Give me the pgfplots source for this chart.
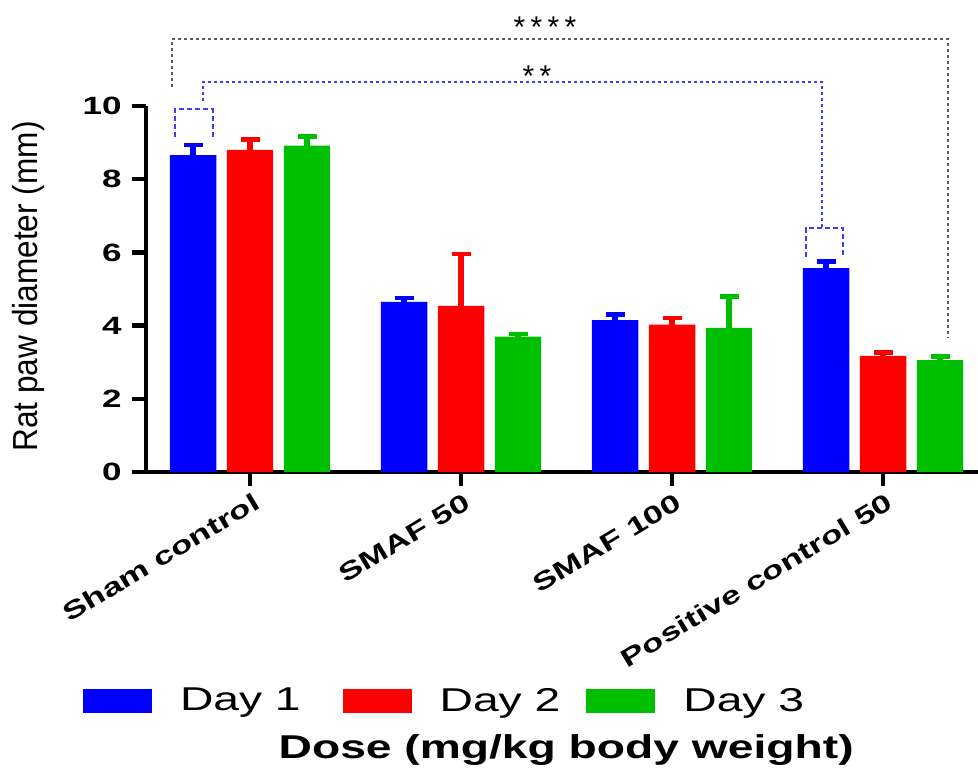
\documentclass[border=0pt]{standalone}
\usepackage{fontspec}
\setmainfont{Liberation Sans}
\newfontfamily\wide{Liberation Sans}[FakeStretch=1.4]
\usepackage{graphicx}
\usepackage{pgfplots}
\pgfplotsset{compat=1.18}
\definecolor{cB}{RGB}{0,0,255}
\definecolor{cR}{RGB}{255,0,0}
\definecolor{cG}{RGB}{0,190,0}
\definecolor{starline}{RGB}{90,90,90}
\definecolor{sigblue}{RGB}{60,60,255}
\begin{document}
\begin{tikzpicture}
\begin{axis}[
  name=ax,
  scale only axis, width=416pt, height=183pt,
  xmin=-0.493, xmax=3.45, ymin=0, ymax=10,
  clip=false,
  axis x line*=bottom, axis y line*=left,
  axis line style={line width=2.25pt, black},
  tick align=outside,
  major tick length=7pt,
  tick style={line width=2.25pt, black},
  ytick={0,2,4,6,8,10},
  xtick={0,1,2,3},
  xticklabels={Sham control, SMAF 50, SMAF 100, Positive control 50},
  /pgf/number format/assume math mode=true,
  yticklabel style={font=\wide\bfseries\fontsize{12.5}{14}\selectfont, inner sep=5pt},
  xticklabel style={font=\wide\bfseries\fontsize{12.5}{14}\selectfont, rotate=31, anchor=north east, inner sep=3pt, xshift=2.5pt},
  ybar, bar width=0.22,
  ylabel={\scalebox{1}[1.1]{Rat paw diameter (mm)}},
  ylabel style={font=\fontsize{15.8}{18}\selectfont, at={(axis description cs:-0.131,0.507)}, anchor=base},
  xlabel={Dose (mg/kg body weight)},
  xlabel style={font=\wide\bfseries\fontsize{16.5}{18}\selectfont, at={(axis description cs:0.505,-0.76)}, anchor=center},
  legend columns=3,
  legend style={at={(axis description cs:-0.0757,-0.626)}, anchor=west, draw=none, fill=none,
    inner sep=0pt, outer sep=0pt, font=\wide\fontsize{16.5}{18}\selectfont,
    /tikz/every even column/.append style={column sep=19pt},
    /tikz/every odd column/.append style={column sep=12pt}},
]
\addplot[fill=cB, draw=none, bar shift=-0.27,
  legend image code/.code={\fill[cB] (0pt,-6pt) rectangle (34.5pt,6pt);},
  error bars/.cd, y dir=plus, y explicit,
  error bar style={draw=cB, line width=3pt},
  error mark options={rotate=90, draw=cB, mark size=4.75pt, line width=2.25pt}]
  coordinates {(0,8.66) +- (0,0.28) (1,4.65) +- (0,0.10) (2,4.15) +- (0,0.15) (3,5.57) +- (0,0.18)};
\addlegendentry{Day 1}
\addplot[fill=cR, draw=none, bar shift=0,
  legend image code/.code={\fill[cR] (0pt,-6pt) rectangle (34.5pt,6pt);},
  error bars/.cd, y dir=plus, y explicit,
  error bar style={draw=cR, line width=3pt},
  error mark options={rotate=90, draw=cR, mark size=4.75pt, line width=2.25pt}]
  coordinates {(0,8.80) +- (0,0.29) (1,4.54) +- (0,1.41) (2,4.03) +- (0,0.18) (3,3.17) +- (0,0.10)};
\addlegendentry{Day 2\kern-8pt}
\addplot[fill=cG, draw=none, bar shift=0.27,
  legend image code/.code={\fill[cG] (0pt,-6pt) rectangle (34.5pt,6pt);},
  error bars/.cd, y dir=plus, y explicit,
  error bar style={draw=cG, line width=3pt},
  error mark options={rotate=90, draw=cG, mark size=4.75pt, line width=2.25pt}]
  coordinates {(0,8.92) +- (0,0.25) (1,3.70) +- (0,0.07) (2,3.94) +- (0,0.86) (3,3.06) +- (0,0.10)};
\addlegendentry{Day 3}
% significance brackets
\draw[starline, line width=1pt, dash pattern=on 1.5pt off 1.5pt]
  (axis cs:-0.37,10.52) -- (axis cs:-0.37,11.83) -- (axis cs:3.31,11.83) -- (axis cs:3.31,3.66);
\draw[sigblue, line width=1pt, dash pattern=on 1.5pt off 1.5pt]
  (axis cs:-0.223,10.15) -- (axis cs:-0.223,10.66) -- (axis cs:2.711,10.66) -- (axis cs:2.711,6.67);
\draw[sigblue, line width=1pt, dash pattern=on 2.5pt off 1.5pt]
  (axis cs:-0.355,9.16) -- (axis cs:-0.355,9.92) -- (axis cs:-0.177,9.92) -- (axis cs:-0.177,9.16);
\draw[sigblue, line width=1pt, dash pattern=on 2.5pt off 1.5pt]
  (axis cs:2.634,5.88) -- (axis cs:2.634,6.67) -- (axis cs:2.808,6.67) -- (axis cs:2.808,5.88);
\node[font=\fontsize{15}{15}\selectfont, anchor=base, inner sep=0pt] at (axis cs:1.398,11.86) {*\kern2.65pt*\kern2.65pt*\kern2.65pt*};
\node[font=\fontsize{15}{15}\selectfont, anchor=base, inner sep=0pt] at (axis cs:1.36,10.53) {*\kern2.65pt*};
\end{axis}
\pgfresetboundingbox
\path ([xshift=-73pt,yshift=-148.5pt]ax.south west) rectangle ([yshift=53pt]ax.north east);
\end{tikzpicture}
\end{document}
